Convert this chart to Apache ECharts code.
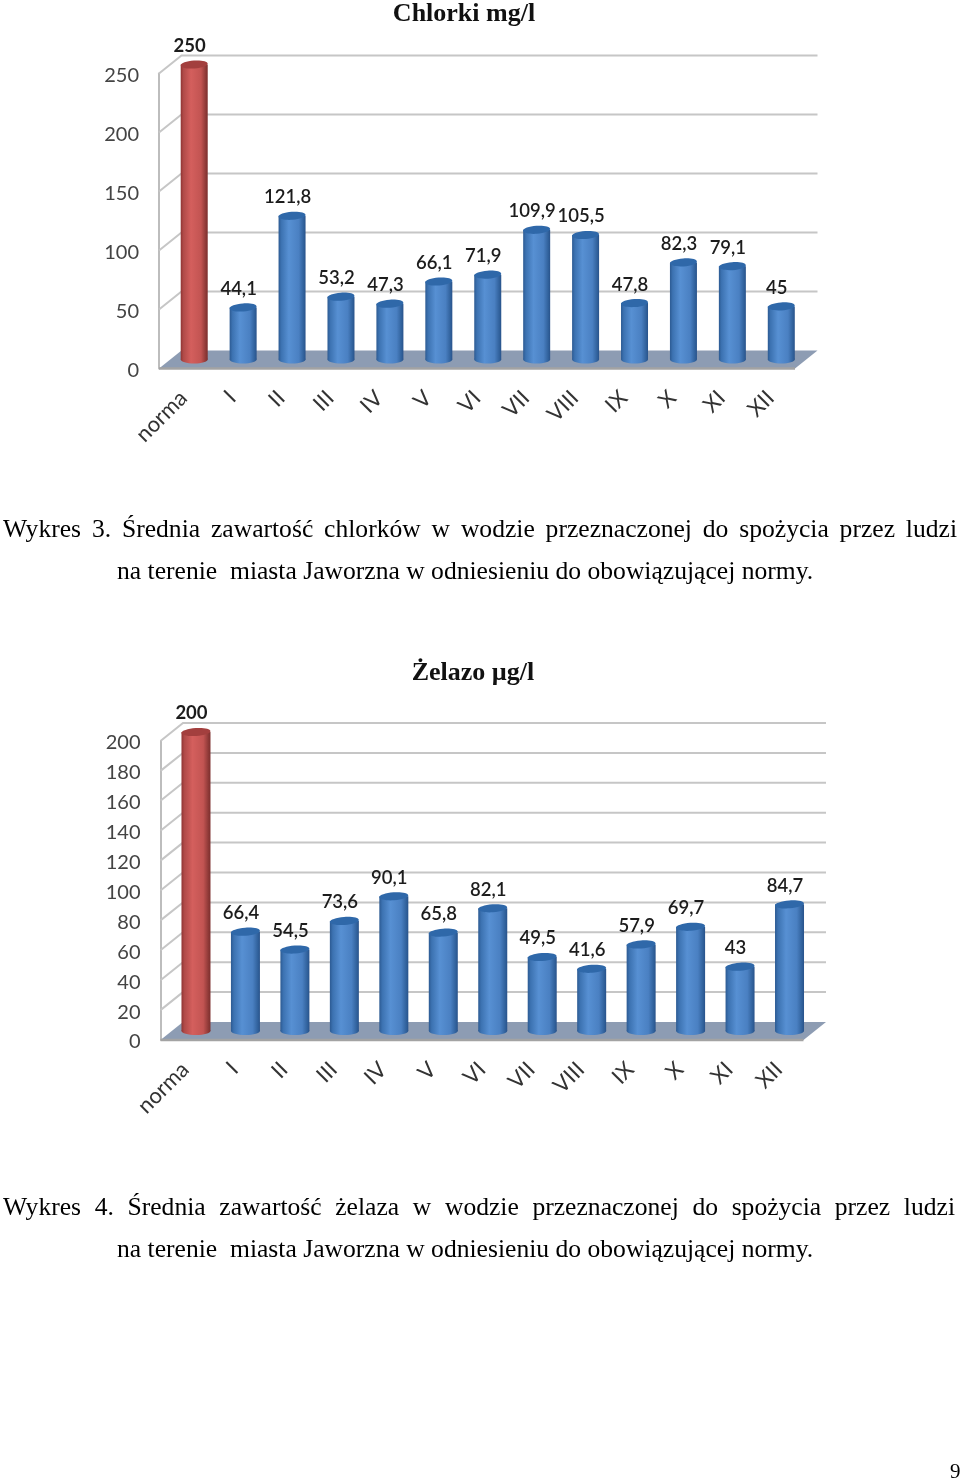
<!DOCTYPE html>
<html><head><meta charset="utf-8">
<style>html,body{margin:0;padding:0;background:#fff}#c{width:960px;height:1480px}</style>
<script src="https://cdn.jsdelivr.net/npm/echarts@6/dist/echarts.min.js"></script>
</head><body><div id="c"></div>
<script>
const categories = ['norma','I','II','III','IV','V','VI','VII','VIII','IX','X','XI','XII'];
const chlorkiValues = [250,44.1,121.8,53.2,47.3,66.1,71.9,109.9,105.5,47.8,82.3,79.1,45];
const zelazoValues = [200,66.4,54.5,73.6,90.1,65.8,82.1,49.5,41.6,57.9,69.7,43,84.7];
const chlorkiTicks = [0,50,100,150,200,250];
const zelazoTicks = [0,20,40,60,80,100,120,140,160,180,200];
const chlorkiTitle = 'Chlorki mg/l';
const zelazoTitle = 'Żelazo µg/l';
const caption3a = 'Wykres 3. Średnia zawartość chlorków w wodzie przeznaczonej do spożycia przez ludzi';
const caption4a = 'Wykres 4. Średnia zawartość żelaza w wodzie przeznaczonej do spożycia przez ludzi';
const captionB = 'na terenie  miasta Jaworzna w odniesieniu do obowiązującej normy.';
const pageNo = '9';

const SANS = 'Lato, "Open Sans", sans-serif', SERIF = '"Liberation Serif", serif';
const DEPTH = [22.5, -18];
const GRID = '#c6c6c6';

function wallSeries(gridIdx, ticks) {
  return {
    type: 'custom', xAxisIndex: gridIdx, yAxisIndex: gridIdx, z: 1, silent: true,
    data: ticks.map(t => [0, t]),
    renderItem(params, api) {
      const cs = params.coordSys, v = api.value(1), y = api.coord([0, v])[1];
      const x0 = cs.x, x1 = cs.x + DEPTH[0], y1 = y + DEPTH[1], xr = cs.x + cs.width + DEPTH[0];
      const ch = [];
      if (v === 0) {
        ch.push({ type: 'polygon', shape: { points: [[x0, y], [x1, y1], [xr, y1], [xr - DEPTH[0], y]] }, style: { fill: '#8d9cb3' } });
        ch.push({ type: 'line', shape: { x1: x0, y1: y, x2: xr - DEPTH[0], y2: y }, style: { stroke: '#a3a3a3', lineWidth: 2.5 } });
      } else {
        ch.push({ type: 'polyline', shape: { points: [[x0, y], [x1, y1], [xr, y1]] }, style: { stroke: GRID, lineWidth: 2, fill: null } });
      }
      return { type: 'group', children: ch };
    }
  };
}

function cylSeries(gridIdx, values, w) {
  return {
    type: 'custom', xAxisIndex: gridIdx, yAxisIndex: gridIdx, z: 5, silent: true,
    data: values.map((v, i) => [i, v]),
    renderItem(params, api) {
      const i = api.value(0), v = api.value(1);
      const top = api.coord([i, v]), base = api.coord([i, 0]);
      const cx = top[0] + DEPTH[0] / 2 - 0.5, ty = top[1] + DEPTH[1] / 2, by = base[1] + DEPTH[1] / 2;
      const red = i === 0;
      const stops = red
        ? [[0, '#8f3433'], [0.1, '#b04a48'], [0.38, '#d45f5d'], [0.75, '#c25452'], [0.94, '#8a3735'], [1, '#7d2f2e']]
        : [[0, '#2c5a92'], [0.1, '#3c72b1'], [0.38, '#5790d3'], [0.75, '#4a80c2'], [0.94, '#2f5f99'], [1, '#29528a']];
      const grad = new echarts.graphic.LinearGradient(0, 0, 1, 0, stops.map(s => ({ offset: s[0], color: s[1] })));
      const rx = w / 2, ry = 4;
      const label = String(v).replace('.', ',');
      const weight = red ? 'bold' : '600';
      return { type: 'group', children: [
        { type: 'ellipse', shape: { cx, cy: by, rx, ry }, style: { fill: grad } },
        { type: 'rect', shape: { x: cx - rx, y: ty, width: w, height: by - ty }, style: { fill: grad } },
        { type: 'ellipse', shape: { cx: 0, cy: 0, rx, ry }, x: cx, y: ty, rotation: 0.07, style: { fill: red ? '#a33f3e' : '#2f68a9' } },
        { type: 'text', x: cx - 4.5, y: ty - 18.5, style: { text: label, font: weight + ' 18.5px ' + SANS, fill: '#1c1c1c', textAlign: 'center', textVerticalAlign: 'middle' } }
      ] };
    }
  };
}

const measure = document.createElement('canvas').getContext('2d');
const captionFont = '25.6px ' + SERIF;
function justified(line, left, right, y) {
  measure.font = captionFont;
  const words = line.split(' ');
  const sum = words.reduce((a, w) => a + measure.measureText(w).width, 0);
  const gap = (right - left - sum) / (words.length - 1);
  let x = left; const out = [];
  words.forEach(w => {
    out.push({ type: 'text', x, y, style: { text: w, font: captionFont, fill: '#000', textVerticalAlign: 'middle' } });
    x += measure.measureText(w).width + gap;
  });
  return out;
}
const plain = (t, x, y) => ({ type: 'text', x, y, style: { text: t, font: captionFont, fill: '#000', textVerticalAlign: 'middle' } });

const xAx = gi => ({
  type: 'category', gridIndex: gi, data: categories, boundaryGap: true,
  axisLine: { show: false }, axisTick: { show: false },
  axisLabel: { rotate: 45, interval: 0, margin: 26, fontFamily: SANS, fontSize: 22, color: '#333' }
});
const yAx = (gi, max, step) => ({
  type: 'value', gridIndex: gi, min: 0, max, interval: step,
  splitLine: { show: false }, axisTick: { show: false },
  axisLine: { show: true, lineStyle: { color: '#bdbdbd', width: 2 } },
  axisLabel: { margin: 20, fontFamily: SANS, fontSize: 20, color: '#444', verticalAlign: 'top', lineHeight: 4 }
});

const option = {
  animation: false, backgroundColor: '#fff',
  title: [
    { text: chlorkiTitle, left: 459, top: -4, textAlign: 'center', textStyle: { fontFamily: SERIF, fontWeight: 'bold', fontSize: 26, color: '#111' } },
    { text: zelazoTitle, left: 468, top: 655, textAlign: 'center', textStyle: { fontFamily: SERIF, fontWeight: 'bold', fontSize: 26, color: '#111' } }
  ],
  grid: [
    { left: 159, top: 73.5, width: 636, height: 295 },
    { left: 160.5, top: 741, width: 643, height: 299 }
  ],
  xAxis: [xAx(0), xAx(1)],
  yAxis: [yAx(0, 250, 50), yAx(1, 200, 20)],
  series: [
    wallSeries(0, chlorkiTicks), wallSeries(1, zelazoTicks),
    cylSeries(0, chlorkiValues, 27), cylSeries(1, zelazoValues, 29)
  ],
  graphic: { elements: [
    ...justified(caption3a, 3, 957, 530),
    plain(captionB, 117, 572),
    ...justified(caption4a, 3, 955, 1208),
    plain(captionB, 117, 1250),
    { type: 'text', x: 950, y: 1472, style: { text: pageNo, font: '21px ' + SERIF, fill: '#000', textVerticalAlign: 'middle' } }
  ] }
};
echarts.init(document.getElementById('c')).setOption(option);
</script></body></html>
